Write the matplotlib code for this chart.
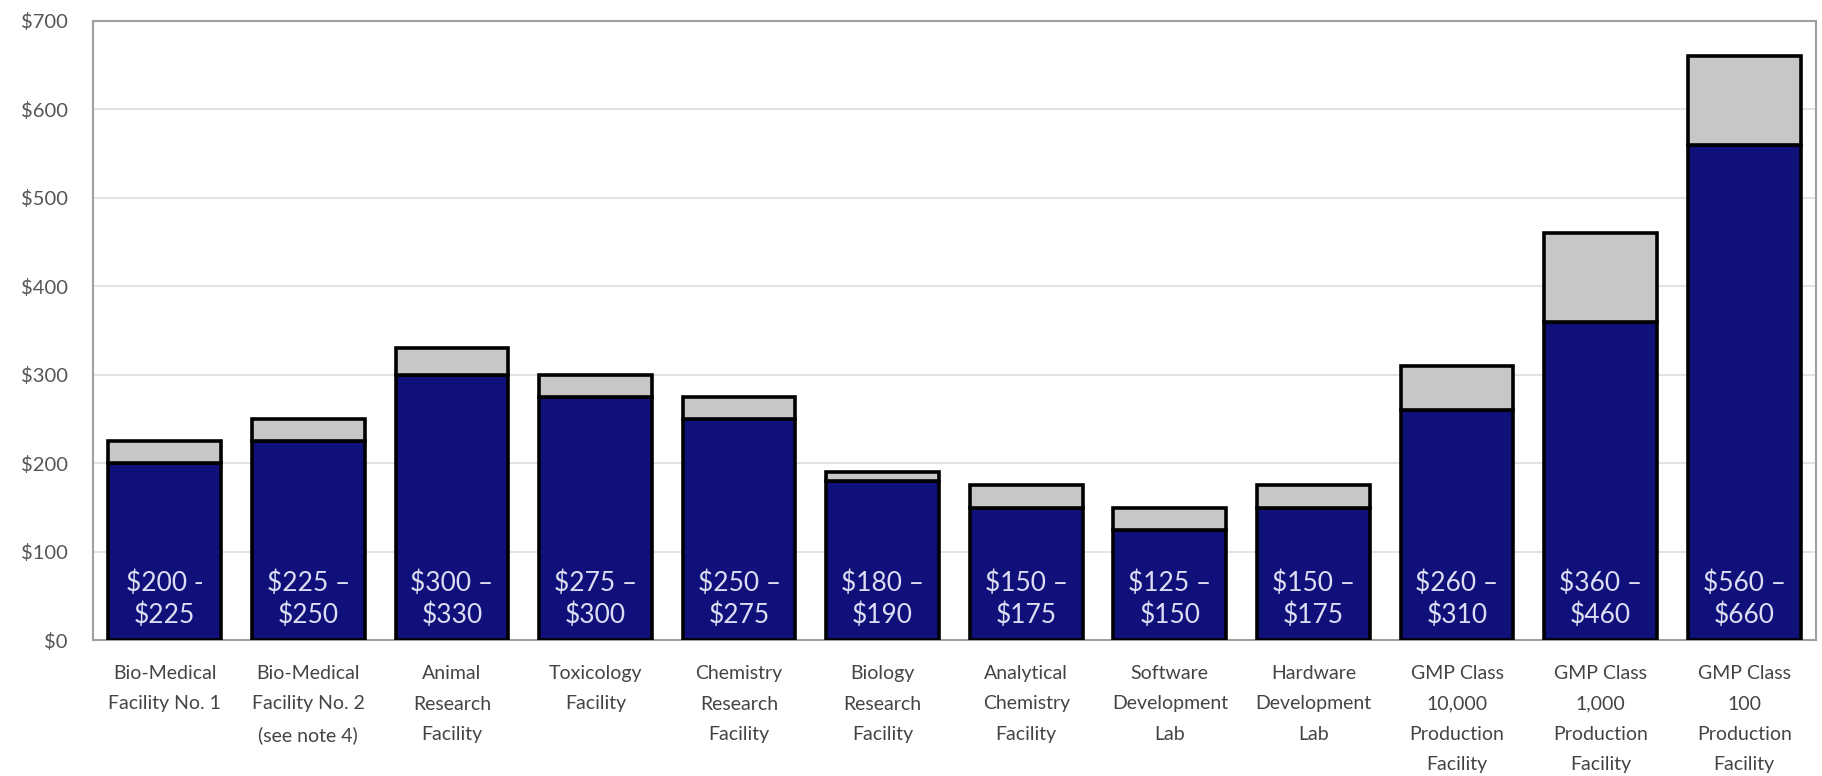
import matplotlib
matplotlib.use("Agg")
import matplotlib.pyplot as plt
import numpy as np

categories = [
    "Bio-Medical\nFacility No. 1",
    "Bio-Medical\nFacility No. 2\n(see note 4)",
    "Animal\nResearch\nFacility",
    "Toxicology\nFacility",
    "Chemistry\nResearch\nFacility",
    "Biology\nResearch\nFacility",
    "Analytical\nChemistry\nFacility",
    "Software\nDevelopment\nLab",
    "Hardware\nDevelopment\nLab",
    "GMP Class\n10,000\nProduction\nFacility",
    "GMP Class\n1,000\nProduction\nFacility",
    "GMP Class\n100\nProduction\nFacility",
]
low_cost = [200, 225, 300, 275, 250, 180, 150, 125, 150, 260, 360, 560]
high_cost = [225, 250, 330, 300, 275, 190, 175, 150, 175, 310, 460, 660]
range_labels = ["$200 -\n$225", "$225 –\n$250", "$300 –\n$330", "$275 –\n$300",
                "$250 –\n$275", "$180 –\n$190", "$150 –\n$175", "$125 –\n$150",
                "$150 –\n$175", "$260 –\n$310", "$360 –\n$460", "$560 –\n$660"]
yticks = [0, 100, 200, 300, 400, 500, 600, 700]

plt.rcParams['font.family'] = ['Lato', 'DejaVu Sans']

fig = plt.figure(figsize=(18.22, 7.76), dpi=100)
ax = fig.add_axes([0.051, 0.175, 0.9457, 0.798])

x = np.arange(len(categories))
w = 0.785
navy = "#10107a"
gray = "#c8c6c8"
ax.bar(x, low_cost, width=w, color=navy, edgecolor="black", linewidth=2.6, zorder=3)
ax.bar(x, np.array(high_cost) - np.array(low_cost), bottom=low_cost, width=w,
       color=gray, edgecolor="black", linewidth=2.6, zorder=3)

for xi, lab in zip(x, range_labels):
    ax.text(xi, 46, lab, ha="center", va="center", color="#dcdcf2",
            fontsize=19, linespacing=1.3, zorder=4)

ax.set_xlim(-0.5, 11.5)
ax.set_ylim(0, 700)
ax.set_yticks(yticks)
ax.set_yticklabels([f"${v}" for v in yticks], fontsize=14.5, color="#555555")
ax.set_xticks(x)
ax.set_xticklabels(categories, fontsize=14, color="#444444", linespacing=1.95)
ax.tick_params(axis="x", length=0, pad=18)
ax.tick_params(axis="y", length=0, pad=18)
ax.yaxis.grid(True, color="#dddddd", linewidth=1.2, zorder=0)
ax.set_axisbelow(True)
for s in ax.spines.values():
    s.set_color("#a0a0a0")
    s.set_linewidth(1.5)

fig.savefig("out.png", dpi=100)
